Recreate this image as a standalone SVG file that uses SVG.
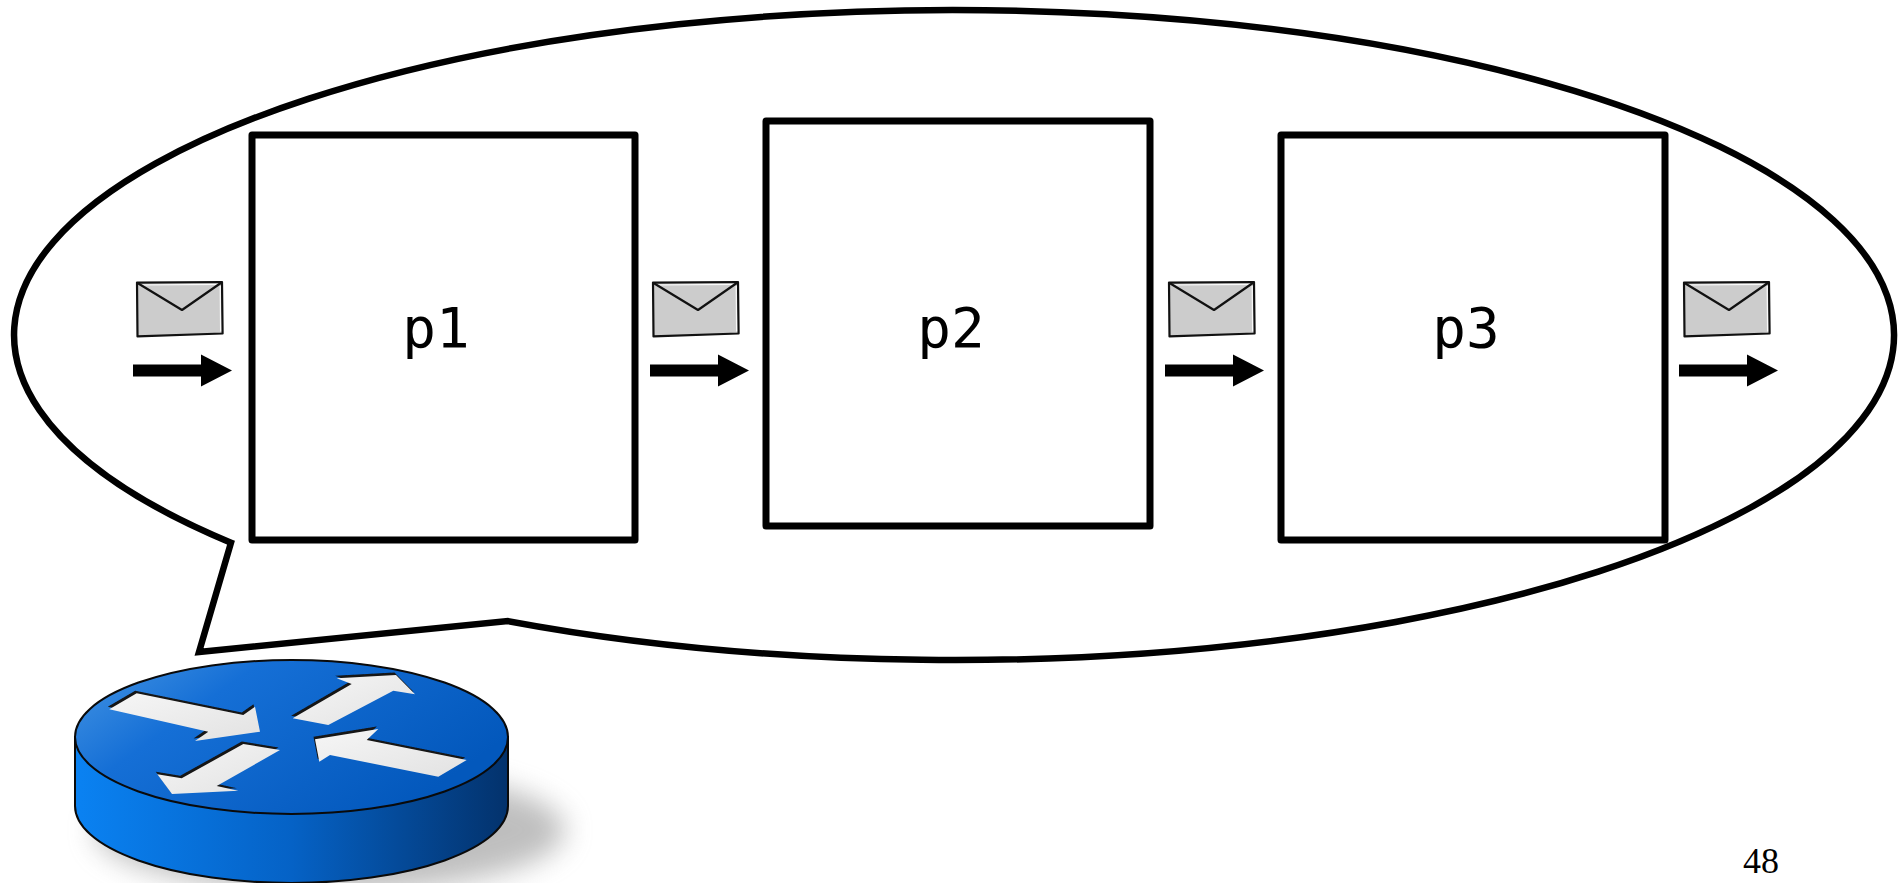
<svg xmlns="http://www.w3.org/2000/svg" width="1898" height="883" viewBox="0 0 1898 883">
  <style>
    .box { fill: #ffffff; stroke: #000000; stroke-width: 7; stroke-linejoin: round; }
    .bubble { fill: #ffffff; stroke: #000000; stroke-width: 6.5; stroke-linejoin: miter; }
    .label { font-family: "DejaVu Sans Mono", monospace; font-size: 56px; fill: #000000; text-anchor: middle; }
    .page { font-family: "Liberation Serif", serif; font-size: 36px; fill: #000000; }
    .flow { fill: #000000; }
    .env-body { fill: #cccccc; stroke: #111111; stroke-width: 2.2; stroke-linejoin: round; }
    .env-flap { fill: none; stroke: #111111; stroke-width: 2.2; stroke-linejoin: round; }
    .env-hl { fill: none; stroke: #ffffff; stroke-width: 1.2; opacity: 0.9; }
    .r-shadow { fill: #141414; }
  </style>
  <defs>
    <!-- message envelope, sketch style -->
    <g id="envelope">
      <path class="env-body" d="M0,0.6 L85,0 L85.6,51.5 L0.5,54.4 Z"/>
      <path class="env-hl" d="M2.5,3 L83,2.4 M83.2,4 L83.6,49.5"/>
      <path class="env-flap" d="M0.5,1 L45,28 L84.5,0.5"/>
    </g>
    <!-- flow arrow: shaft plus triangular head -->
    <path id="flow-arrow" d="M0,-6 L68,-6 L68,-16 L99,0 L68,16 L68,6 L0,6 Z"/>

    <linearGradient id="routerTop" x1="0" y1="0" x2="1" y2="0.5">
      <stop offset="0" stop-color="#4696e4"/>
      <stop offset="0.35" stop-color="#156fd6"/>
      <stop offset="1" stop-color="#0358bc"/>
    </linearGradient>
    <linearGradient id="routerSide" x1="0" y1="0" x2="1" y2="0">
      <stop offset="0" stop-color="#0a82f2"/>
      <stop offset="0.5" stop-color="#0562c6"/>
      <stop offset="1" stop-color="#03326c"/>
    </linearGradient>
    <linearGradient id="arrowFace" x1="0" y1="0" x2="1" y2="1">
      <stop offset="0" stop-color="#f6f6f6"/>
      <stop offset="1" stop-color="#e2e2e2"/>
    </linearGradient>
    <filter id="soft" x="-50%" y="-50%" width="200%" height="200%">
      <feGaussianBlur stdDeviation="14"/>
    </filter>
    <filter id="edge" x="-10%" y="-10%" width="120%" height="120%">
      <feGaussianBlur stdDeviation="0.7"/>
    </filter>
  </defs>

  <!-- speech bubble with tail towards the router -->
  <g id="bubble">
    <path class="bubble" d="M508,621.1 A940,325 0 1 0 231,542.7 L199,652 Z"/>
  </g>

  <!-- pipeline stages -->
  <g id="p1">
    <rect class="box" x="252" y="135" width="383" height="405"/>
    <text class="label" x="436" y="347">p1</text>
  </g>
  <g id="p2">
    <rect class="box" x="766" y="121" width="384" height="405"/>
    <text class="label" x="951" y="347">p2</text>
  </g>
  <g id="p3">
    <rect class="box" x="1281" y="135" width="384" height="405"/>
    <text class="label" x="1466" y="347">p3</text>
  </g>

  <!-- messages travelling between stages -->
  <g id="messages">
    <use href="#envelope" x="137" y="282"/>
    <use href="#envelope" x="653" y="282"/>
    <use href="#envelope" x="1169" y="282"/>
    <use href="#envelope" x="1684" y="282"/>
  </g>

  <g id="connectors">
    <use class="flow" href="#flow-arrow" x="133" y="370.5"/>
    <use class="flow" href="#flow-arrow" x="650" y="370.5"/>
    <use class="flow" href="#flow-arrow" x="1165" y="370.5"/>
    <use class="flow" href="#flow-arrow" x="1679" y="370.5"/>
  </g>

  <!-- router icon -->
  <g id="router">
    <ellipse cx="330" cy="830" rx="235" ry="62" fill="#8a8a8a" opacity="0.55" filter="url(#soft)"/>
    <path d="M75,737 L75,806 A216.5,77 0 0 0 508,806 L508,737 Z" fill="url(#routerSide)" stroke="#0a0a0a" stroke-width="2"/>
    <ellipse cx="291.5" cy="737" rx="216.5" ry="77" fill="url(#routerTop)" stroke="#0a0a0a" stroke-width="2"/>
    <!-- shadows of the recessed arrows -->
    <g filter="url(#edge)" transform="translate(-1.5,-2.5)">
      <polygon class="r-shadow" points="109.3,709.3 136.7,693.3 243.3,715 255,706.7 260,731.7 195,741 208.3,731.7"/>
      <polygon class="r-shadow" points="292.7,718.3 351.7,684 336.7,678.3 396,675 415,694.3 393.3,690.7 328.3,725"/>
      <polygon class="r-shadow" points="243.3,744 280,750 216.7,786 238.3,790.7 172,794 157.3,774.3 181.7,778.3"/>
      <polygon class="r-shadow" points="466.7,760 366.7,740 378.3,729 315,739.3 319.3,761.7 330,755 438.3,776.7"/>
    </g>
    <g fill="url(#arrowFace)">
      <polygon points="109.3,709.3 136.7,693.3 243.3,715 255,706.7 260,731.7 195,741 208.3,731.7"/>
      <polygon points="292.7,718.3 351.7,684 336.7,678.3 396,675 415,694.3 393.3,690.7 328.3,725"/>
      <polygon points="243.3,744 280,750 216.7,786 238.3,790.7 172,794 157.3,774.3 181.7,778.3"/>
      <polygon points="466.7,760 366.7,740 378.3,729 315,739.3 319.3,761.7 330,755 438.3,776.7"/>
    </g>
  </g>

  <text class="page" x="1743" y="873">48</text>
</svg>
